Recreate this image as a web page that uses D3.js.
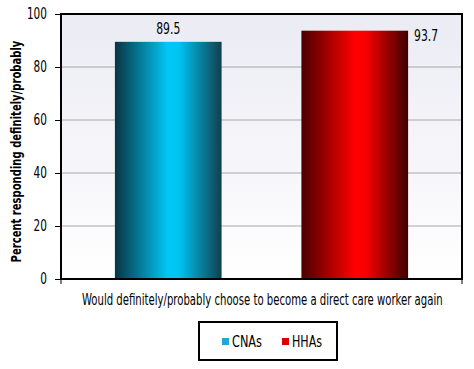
<!DOCTYPE html>
<html><head><meta charset="utf-8">
<script src="https://cdn.jsdelivr.net/npm/d3@7"></script>
<style>body{margin:0;background:#fff;} text{font-family:"DejaVu Sans Condensed","DejaVu Sans",sans-serif;font-stretch:semi-condensed;}</style>
</head><body><svg id="c" width="474" height="369"></svg>
<script>
const categories = ["Would definitely/probably choose to become a direct care worker again"];
const seriesNames = ["CNAs", "HHAs"];
const seriesValues = [89.5, 93.7];
const yTicks = [0, 20, 40, 60, 80, 100];
const yTitle = "Percent responding definitely/probably";

const svg = d3.select("#c");
const L = 61, R = 462, T = 14, B = 279;
const y = d3.scaleLinear().domain([0, 100]).range([B, T]);
const x = d3.scaleBand().domain(seriesNames).range([L, R]).paddingInner(0.428).paddingOuter(0.289);

// place text at (tx,ty) squeezed horizontally to a given width, optional rotation
function narrowText(parent, str, tx, ty, size, width, anchor, rot, weight) {
  const g = parent.append("g");
  const t = g.append("text").attr("font-size", size).attr("text-anchor", anchor || "start")
    .attr("font-weight", weight || "normal").attr("fill", "#000").text(str);
  const nat = t.node().getComputedTextLength();
  const s = Math.min(1, width / nat);
  g.attr("transform", `translate(${tx},${ty})${rot ? ` rotate(${rot})` : ""} scale(${s},1)`);
  return g;
}

const defs = svg.append("defs");
const bg = defs.append("linearGradient").attr("id","bg").attr("x1",0).attr("y1",0).attr("x2",0).attr("y2",1);
bg.append("stop").attr("offset","0%").attr("stop-color","#ebebf4");
bg.append("stop").attr("offset","100%").attr("stop-color","#ffffff");
const grads = [
  ["g0", [["0%","#0a3444"],["50%","#00c8f6"],["60%","#00c4f2"],["100%","#10404e"]]],
  ["g1", [["0%","#4a0000"],["50%","#ff0000"],["60%","#fa0000"],["100%","#3e0000"]]]
];
grads.forEach(([id, stops]) => {
  const g = defs.append("linearGradient").attr("id", id).attr("x1",0).attr("x2",1).attr("y1",0).attr("y2",0);
  stops.forEach(s => g.append("stop").attr("offset", s[0]).attr("stop-color", s[1]));
});

svg.append("rect").attr("x", L).attr("y", T).attr("width", R-L).attr("height", B-T).attr("fill","url(#bg)");

// gridlines
svg.append("g").selectAll("line").data(yTicks.filter(d => d > 0 && d < 100)).join("line")
  .attr("x1", L).attr("x2", R).attr("y1", d => y(d)).attr("y2", d => y(d))
  .attr("stroke", "#a8a8a8").attr("stroke-width", 1);

// bars
svg.append("g").selectAll("rect").data(seriesValues).join("rect")
  .attr("x", (d,i) => x(seriesNames[i])).attr("width", x.bandwidth())
  .attr("y", d => y(d)).attr("height", d => B - y(d))
  .attr("fill", (d,i) => `url(#g${i})`);

// value labels
narrowText(svg, seriesValues[0].toFixed(1), x(seriesNames[0]) + x.bandwidth()/2, y(seriesValues[0]) - 8, 15, 24, "middle");
narrowText(svg, seriesValues[1].toFixed(1), x(seriesNames[1]) + x.bandwidth() + 6, y(seriesValues[1]) + 10, 15, 24, "start");

// frame
svg.append("rect").attr("x", L).attr("y", T).attr("width", R-L).attr("height", B-T)
  .attr("fill","none").attr("stroke","#000").attr("stroke-width",2);

// y axis
const yAxis = svg.append("g").attr("transform", `translate(${L},0)`)
  .call(d3.axisLeft(y).tickValues(yTicks).tickSize(6).tickFormat(() => ""));
yAxis.select(".domain").remove();
yAxis.selectAll(".tick line").attr("stroke","#000");
yTicks.forEach(v => narrowText(svg, String(v), L - 14, y(v) + 5, 15, String(v).length * 6.7, "end"));

// x axis ticks at ends
svg.append("g").selectAll("line").data([L, R]).join("line")
  .attr("x1", d => d).attr("x2", d => d).attr("y1", B).attr("y2", B + 5).attr("stroke","#000");

narrowText(svg, categories[0], 82, 305, 16, 361, "start");

narrowText(svg, yTitle, 21, (T+B)/2 + 5, 14, 222, "middle", -90, "bold");

// legend
const lg = svg.append("g");
lg.append("rect").attr("x", 199).attr("y", 322).attr("width", 138).attr("height", 38)
  .attr("fill","#fff").attr("stroke","#000").attr("stroke-width",2);
const legX = [222, 282];
const legColors = ["#1fa8d6", "#d80000"];
seriesNames.forEach((n, i) => {
  lg.append("rect").attr("x", legX[i]).attr("y", 338).attr("width", 7).attr("height", 7).attr("fill", legColors[i]);
  narrowText(lg, n, legX[i] + 10, 347, 15, 30, "start");
});
</script></body></html>
